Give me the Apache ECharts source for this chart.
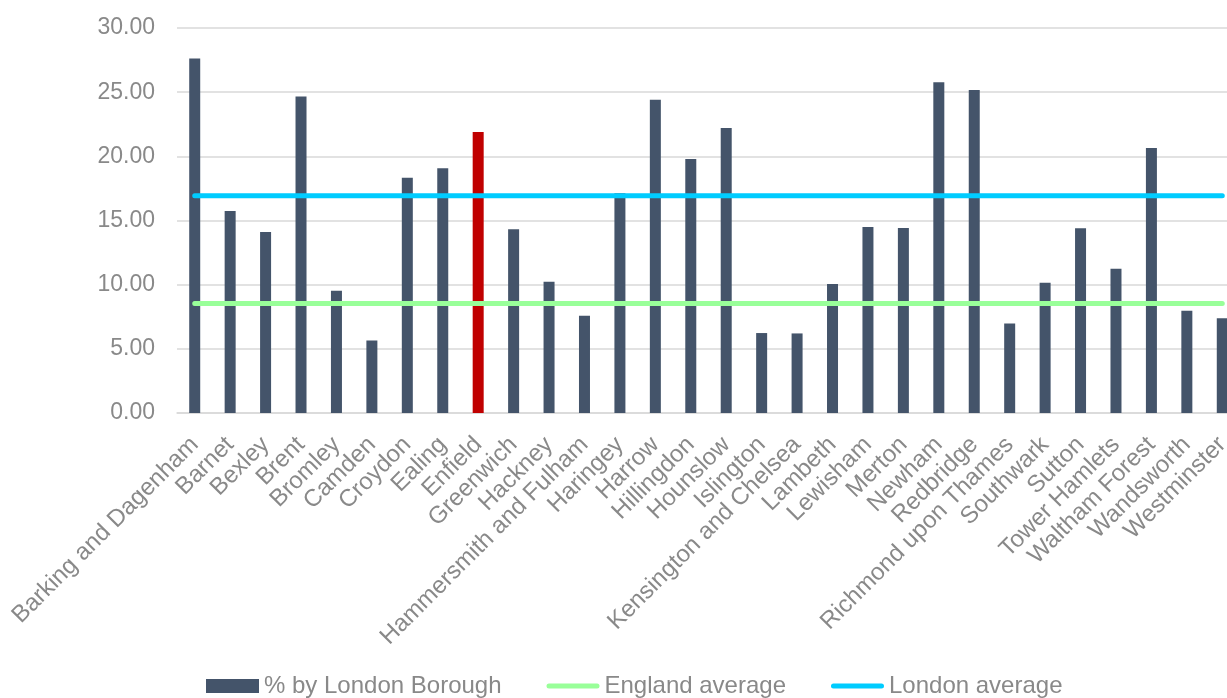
<!DOCTYPE html>
<html>
<head>
<meta charset="utf-8">
<script src="https://cdn.jsdelivr.net/npm/echarts@6/dist/echarts.min.js"></script>
<style>
html,body{margin:0;padding:0;background:#fff;}
#chart{width:1227px;height:698px;}
</style>
</head>
<body>
<div id="chart"></div>
<script>
const categories = ["Barking and Dagenham","Barnet","Bexley","Brent","Bromley","Camden","Croydon","Ealing","Enfield","Greenwich","Hackney","Hammersmith and Fulham","Haringey","Harrow","Hillingdon","Hounslow","Islington","Kensington and Chelsea","Lambeth","Lewisham","Merton","Newham","Redbridge","Richmond upon Thames","Southwark","Sutton","Tower Hamlets","Waltham Forest","Wandsworth","Westminster"];
const boroughValues = [27.63,15.74,14.11,24.67,9.52,5.65,18.34,19.07,21.89,14.32,10.22,7.57,17.12,24.41,19.79,22.20,6.23,6.20,10.06,14.50,14.42,25.78,25.16,6.97,10.14,14.40,11.25,20.65,7.96,7.39];
const englandAverage = [8.53,8.53,8.53,8.53,8.53,8.53,8.53,8.53,8.53,8.53,8.53,8.53,8.53,8.53,8.53,8.53,8.53,8.53,8.53,8.53,8.53,8.53,8.53,8.53,8.53,8.53,8.53,8.53,8.53,8.53];
const londonAverage = [16.93,16.93,16.93,16.93,16.93,16.93,16.93,16.93,16.93,16.93,16.93,16.93,16.93,16.93,16.93,16.93,16.93,16.93,16.93,16.93,16.93,16.93,16.93,16.93,16.93,16.93,16.93,16.93,16.93,16.93];
const highlightBorough = "Enfield";

const FONT = "'Liberation Sans', Arial, sans-serif";
const GREY = '#898989';
// legend line icon: thin rounded bar inside a 53x14 box (corner specks keep the box size)
const LINE_ICON = 'path://M0,0L0.01,0L0,0.01Z M2.5,4.5L50.5,4.5A2.5,2.5 0 0 1 50.5,9.5L2.5,9.5A2.5,2.5 0 0 1 2.5,4.5Z M53,14L52.99,14L53,13.99Z';
const chart = echarts.init(document.getElementById('chart'), null, {renderer:'canvas'});
chart.setOption({
  animation:false,
  textStyle:{fontFamily:FONT},
  grid:{left:177, top:28, width:1063, bottom:285, containLabel:false, outerBoundsMode:'none'},
  legend:{
    left:206, top:674, padding:0,
    itemWidth:53, itemHeight:14, itemGap:45,
    textStyle:{color:GREY, fontSize:24, fontFamily:FONT},
    data:[
      {name:'% by London Borough', icon:'rect'},
      {name:'England average', icon:LINE_ICON},
      {name:'London average', icon:LINE_ICON}
    ]
  },
  xAxis:{
    type:'category', data:categories, boundaryGap:true,
    axisLine:{show:true, lineStyle:{color:'#d9d9d9', width:1.5}},
    axisTick:{show:false},
    axisLabel:{rotate:45, interval:0, margin:28, color:GREY, fontSize:24, fontFamily:FONT}
  },
  yAxis:{
    type:'value', min:0, max:30, interval:5,
    axisLine:{show:false}, axisTick:{show:false},
    splitLine:{lineStyle:{color:'#d9d9d9', width:1.5}},
    axisLabel:{margin:22, color:GREY, fontSize:23, fontFamily:FONT, formatter:v=>v.toFixed(2)}
  },
  series:[
    {
      name:'% by London Borough', type:'bar', barWidth:11,
      itemStyle:{color:'#44546A'},
      data:boroughValues.map((v,i)=> categories[i]===highlightBorough ? {value:v, itemStyle:{color:'#C00000'}} : v),
      z:2
    },
    {
      name:'England average', type:'line', data:englandAverage, symbol:'none',
      lineStyle:{color:'#99FF99', width:5, cap:'round'}, itemStyle:{color:'#99FF99'}, z:3
    },
    {
      name:'London average', type:'line', data:londonAverage, symbol:'none',
      lineStyle:{color:'#00CCFF', width:5, cap:'round'}, itemStyle:{color:'#00CCFF'}, z:4
    }
  ]
});
</script>
</body>
</html>
